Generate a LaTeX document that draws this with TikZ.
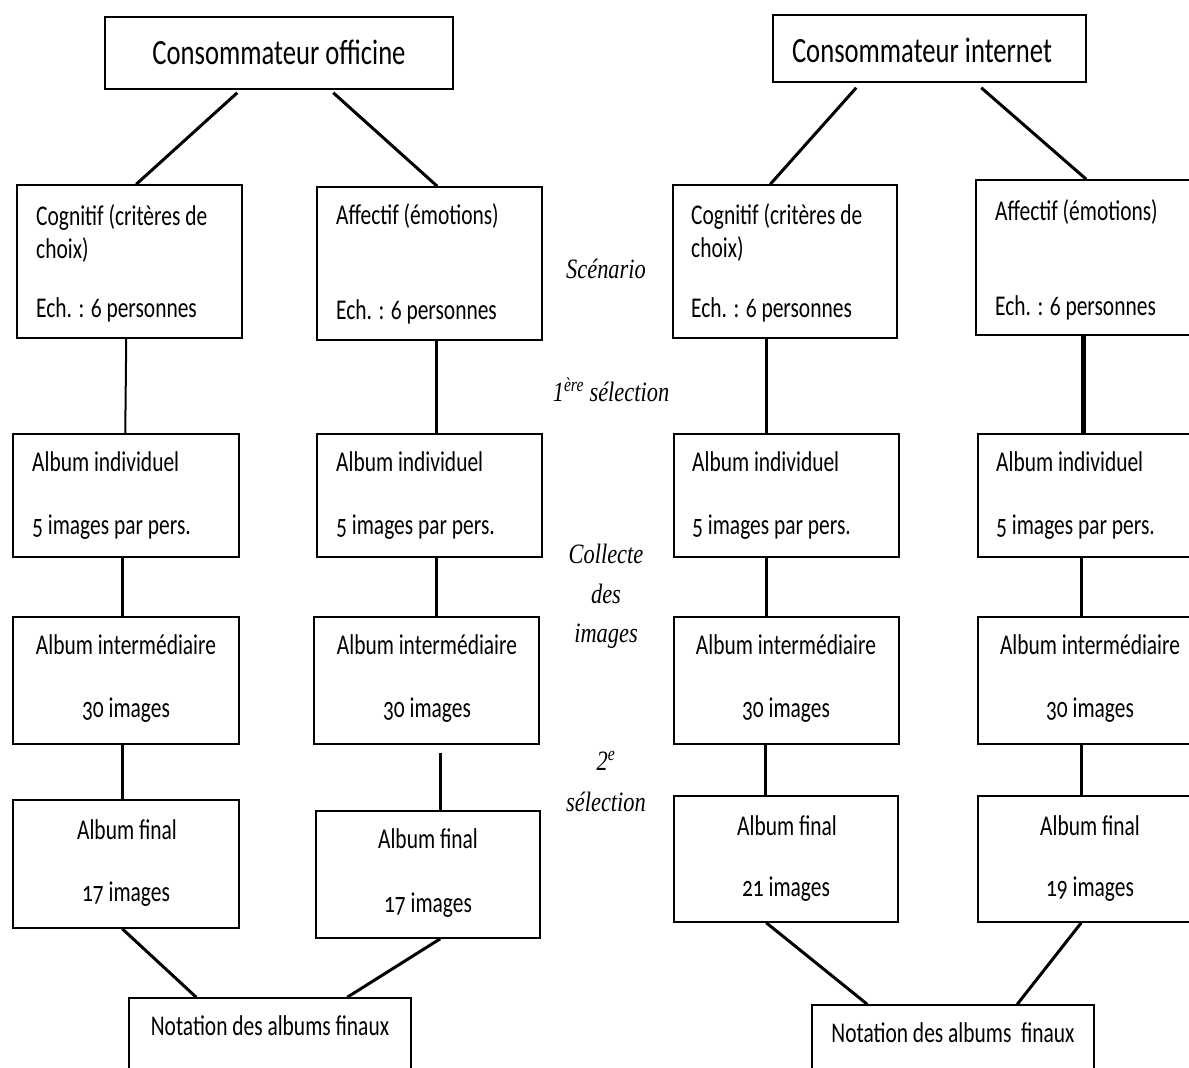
\documentclass[tikz,border=0pt]{standalone}
\usepackage{fontspec}
\setmainfont{Carlito}[Numbers=OldStyle,FakeStretch=0.75]
\newfontfamily\labfont{Liberation Serif}[FakeStretch=0.8]
\usetikzlibrary{calc}
\tikzset{
  boxst/.style={draw, line width=1.5pt, inner sep=0pt, rectangle},
  conn/.style={line width=3pt},
  connthin/.style={line width=2pt},
  connthick/.style={line width=4.5pt},
  txt/.style={inner sep=0pt, font=\fontsize{28.6}{32}\selectfont},
  ttl/.style={inner sep=0pt, font=\fontsize{35.5}{40}\selectfont},
  lab/.style={inner sep=0pt, font=\labfont\itshape\fontsize{28}{32}\selectfont},
}
\newcommand\mybox[5]{\node[boxst, minimum width={(#4-#2)*1pt}, minimum height={(#5-#3)*1pt}] (#1) at ({(#2+#4)/2},{(#3+#5)/2}) {};}
\begin{document}
\begin{tikzpicture}[x=1pt,y=-1pt]
\useasboundingbox (0,0) rectangle (1189,1068);
\clip (0,0) rectangle (1189,1068);
\fill[white] (0,0) rectangle (1189,1068);
% boxes
\mybox{cons1}{105}{17}{453}{89}
\mybox{cons2}{773}{15}{1086}{82}
\mybox{cogL}{17}{185}{242}{338}
\mybox{affL}{317}{187}{542}{340}
\mybox{cogR}{673}{185}{897}{338}
\mybox{affR}{976}{180}{1204}{335}
\mybox{indL1}{13}{434}{239}{557}
\mybox{indL2}{317}{434}{542}{557}
\mybox{indR1}{674}{434}{899}{557}
\mybox{indR2}{978}{434}{1204}{557}
\mybox{intL1}{13}{617}{239}{744}
\mybox{intL2}{314}{617}{539}{744}
\mybox{intR1}{674}{617}{899}{744}
\mybox{intR2}{978}{617}{1204}{744}
\mybox{finL1}{13}{800}{239}{928}
\mybox{finL2}{316}{811}{540}{938}
\mybox{finR1}{674}{796}{898}{922}
\mybox{finR2}{978}{796}{1204}{922}
\mybox{notL}{129}{998}{411}{1090}
\mybox{notR}{812}{1005}{1094}{1090}
% titles
\node[ttl,anchor=base] (t1) at (279,64) {Consommateur officine};
\node[ttl,anchor=base] (t2) at (922,62) {Consommateur internet};
% row 1 texts
\node[txt,anchor=base west] (a1) at (36,225) {Cognitif (critères de};
\node[txt,anchor=base west] (a2) at (36,258) {choix)};
\node[txt,anchor=base west] (a3) at (36,317) {Ech. : 6 personnes};
\node[txt,anchor=base west] (b1) at (336,224) {Affectif (émotions)};
\node[txt,anchor=base west] (b3) at (336,319) {Ech. : 6 personnes};
\node[txt,anchor=base west] (c1) at (691,224) {Cognitif (critères de};
\node[txt,anchor=base west] (c2) at (691,257) {choix)};
\node[txt,anchor=base west] (c3) at (691,317) {Ech. : 6 personnes};
\node[txt,anchor=base west] (d1) at (995,220) {Affectif (émotions)};
\node[txt,anchor=base west] (d3) at (995,315) {Ech. : 6 personnes};
% row 2
\node[txt,anchor=base west] (e1) at (32,471) {Album individuel};
\node[txt,anchor=base west] (e2) at (32,534) {5 images par pers.};
\node[txt,anchor=base west] (f1) at (336,471) {Album individuel};
\node[txt,anchor=base west] (f2) at (336,534) {5 images par pers.};
\node[txt,anchor=base west] (g1) at (692,471) {Album individuel};
\node[txt,anchor=base west] (g2) at (692,534) {5 images par pers.};
\node[txt,anchor=base west] (h1) at (996,471) {Album individuel};
\node[txt,anchor=base west] (h2) at (996,534) {5 images par pers.};
% row 3
\node[txt,anchor=base] (i1) at (126,654) {Album intermédiaire};
\node[txt,anchor=base] (i2) at (126,717) {30 images};
\node[txt,anchor=base] (j1) at (427,654) {Album intermédiaire};
\node[txt,anchor=base] (j2) at (427,717) {30 images};
\node[txt,anchor=base] (k1) at (786,654) {Album intermédiaire};
\node[txt,anchor=base] (k2) at (786,717) {30 images};
\node[txt,anchor=base] (l1) at (1090,654) {Album intermédiaire};
\node[txt,anchor=base] (l2) at (1090,717) {30 images};
% row 4
\node[txt,anchor=base] (m1) at (127,839) {Album final};
\node[txt,anchor=base] (m2) at (126,901) {17 images};
\node[txt,anchor=base] (n1) at (428,848) {Album final};
\node[txt,anchor=base] (n2) at (428,912) {17 images};
\node[txt,anchor=base] (o1) at (787,835) {Album final};
\node[txt,anchor=base] (o2) at (786,896) {21 images};
\node[txt,anchor=base] (p1) at (1090,835) {Album final};
\node[txt,anchor=base] (p2) at (1090,896) {19 images};
% bottom
\node[txt,anchor=base] (q1) at (270,1035) {Notation des albums finaux};
\node[txt,anchor=base] (r1) at (953,1042) {Notation des albums\ \,finaux};
% middle labels
\node[lab,anchor=base] (s1) at (606,278) {Scénario};
\node[lab,anchor=base] (s2) at (611,401) {1\textsuperscript{ère} sélection};
\node[lab,anchor=base] (s3) at (606,563) {Collecte};
\node[lab,anchor=base] (s4) at (606,603) {des};
\node[lab,anchor=base] (s5) at (606,642) {images};
\node[lab,anchor=base] (s6) at (606,770) {2\textsuperscript{e}};
\node[lab,anchor=base] (s7) at (606,811) {sélection};
% connectors top
\draw[conn] ($(cons1.south west)+(133,3)$) -- ($(cogL.north west)+(120,0)$);
\draw[conn] ($(cons1.south west)+(229,3)$) -- ($(affL.north west)+(121,0)$);
\draw[conn] ($(cons2.south west)+(84,5)$) -- ($(cogR.north west)+(98,0)$);
\draw[conn] ($(cons2.south west)+(209,5)$) -- ($(affR.north west)+(111,0)$);
% verticals
\draw[connthin] ($(cogL.south west)+(110,0)$) -- ($(indL1.north west)+(113,0)$);
\draw[conn] ($(affL.south west)+(120,0)$) -- ($(indL2.north west)+(120,0)$);
\draw[conn] ($(cogR.south west)+(94,0)$) -- ($(indR1.north west)+(93,0)$);
\draw[connthick] ($(affR.south west)+(108,0)$) -- ($(indR2.north west)+(106,0)$);
\draw[conn] ($(indL1.south west)+(110,0)$) -- ($(intL1.north west)+(110,0)$);
\draw[conn] ($(indL2.south west)+(120,0)$) -- ($(intL2.north west)+(123,0)$);
\draw[conn] ($(indR1.south west)+(93,0)$) -- ($(intR1.north west)+(93,0)$);
\draw[conn] ($(indR2.south west)+(104,0)$) -- ($(intR2.north west)+(104,0)$);
\draw[conn] ($(intL1.south west)+(110,0)$) -- ($(finL1.north west)+(110,0)$);
\draw[conn] ($(intL2.south west)+(127,8)$) -- ($(finL2.north west)+(125,0)$);
\draw[conn] ($(intR1.south west)+(92,0)$) -- ($(finR1.north west)+(92,0)$);
\draw[conn] ($(intR2.south west)+(104,0)$) -- ($(finR2.north west)+(104,0)$);
% bottom diagonals
\draw[conn] ($(finL1.south west)+(110,0)$) -- ($(notL.north west)+(68,0)$);
\draw[conn] ($(finL2.south west)+(125,0)$) -- ($(notL.north west)+(219,0)$);
\draw[conn] ($(finR1.south west)+(93,0)$) -- ($(notR.north west)+(56,0)$);
\draw[conn] ($(finR2.south west)+(104,0)$) -- ($(notR.north west)+(206,0)$);
\end{tikzpicture}
\end{document}
